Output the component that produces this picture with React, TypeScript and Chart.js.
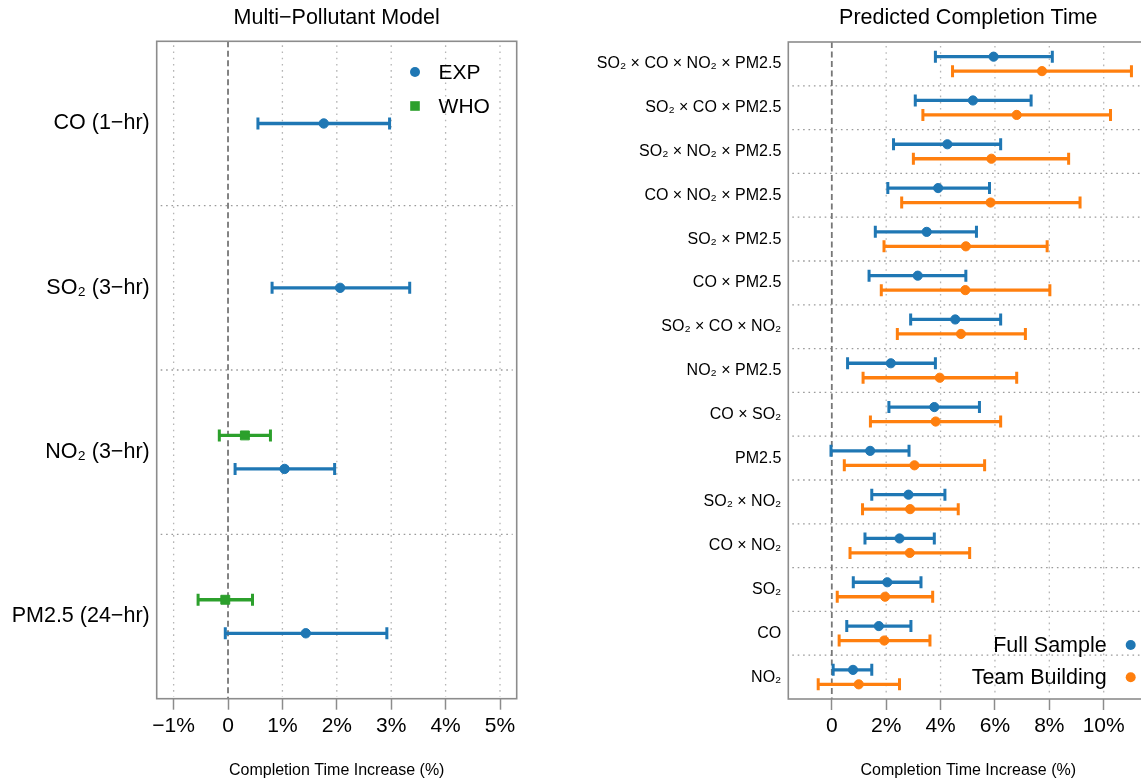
import React, { useEffect, useRef } from "react";
import { Chart, registerables } from "chart.js";

Chart.register(...registerables);

const FONT = "'Liberation Sans', Arial, Helvetica, sans-serif";
Chart.defaults.font.family = FONT;
Chart.defaults.color = "#000";

// ---------- Left panel data ----------
const leftCategories = ["CO (1−hr)", "SO₂ (3−hr)", "NO₂ (3−hr)", "PM2.5 (24−hr)"];
const expEst = [1.76, 2.06, 1.04, 1.43];
const expLow = [0.55, 0.81, 0.13, -0.05];
const expHigh = [2.97, 3.34, 1.96, 2.92];
const whoEst: (number | null)[] = [null, null, 0.31, -0.05];
const whoLow: (number | null)[] = [null, null, -0.16, -0.55];
const whoHigh: (number | null)[] = [null, null, 0.78, 0.45];
const leftTicks = [-1, 0, 1, 2, 3, 4, 5];

// ---------- Right panel data ----------
const rightCategories = [
  "SO₂ × CO × NO₂ × PM2.5",
  "SO₂ × CO × PM2.5",
  "SO₂ × NO₂ × PM2.5",
  "CO × NO₂ × PM2.5",
  "SO₂ × PM2.5",
  "CO × PM2.5",
  "SO₂ × CO × NO₂",
  "NO₂ × PM2.5",
  "CO × SO₂",
  "PM2.5",
  "SO₂ × NO₂",
  "CO × NO₂",
  "SO₂",
  "CO",
  "NO₂",
];
const fullEst = [5.95, 5.19, 4.25, 3.91, 3.49, 3.16, 4.54, 2.17, 3.77, 1.41, 2.82, 2.49, 2.04, 1.73, 0.78];
const fullLow = [3.81, 3.07, 2.27, 2.06, 1.6, 1.37, 2.9, 0.58, 2.1, -0.03, 1.47, 1.22, 0.79, 0.55, 0.05];
const fullHigh = [8.11, 7.33, 6.21, 5.8, 5.32, 4.93, 6.21, 3.81, 5.43, 2.84, 4.16, 3.77, 3.28, 2.91, 1.47];
const teamEst = [7.73, 6.8, 5.87, 5.84, 4.93, 4.91, 4.75, 3.97, 3.82, 3.04, 2.88, 2.87, 1.96, 1.93, 0.99];
const teamLow = [4.44, 3.35, 3.0, 2.57, 1.92, 1.82, 2.41, 1.15, 1.42, 0.46, 1.13, 0.67, 0.2, 0.27, -0.5];
const teamHigh = [11.02, 10.25, 8.71, 9.13, 7.92, 8.02, 7.12, 6.8, 6.21, 5.62, 4.65, 5.07, 3.71, 3.61, 2.49];
const rightTicks = [0, 2, 4, 6, 8, 10];

const BLUE = "#1f77b4";
const ORANGE = "#ff7f0e";
const GREEN = "#2ca02c";

type Series = {
  label: string;
  color: string;
  style: "circle" | "rect";
  radius: number;
  est: (number | null)[];
  low: (number | null)[];
  high: (number | null)[];
  offset: (i: number) => number;
};

type LegendItem = { label: string; color: string; style: "circle" | "rect"; x: number; tx: number; y: number; align: CanvasTextAlign };

function tickLabel(v: number) {
  if (v === 0) return "0";
  return (v < 0 ? "−" + Math.abs(v) : String(v)) + "%";
}

function buildConfig(opts: {
  title: string;
  categories: string[];
  series: Series[];
  xMin: number;
  xMax: number;
  xTicks: number[];
  yAxisWidth: number;
  xAxisHeight: number;
  padding: { left: number; right: number; top: number; bottom: number };
  catFont: number;
  legend: LegendItem[];
  legendFont: number;
}) {
  const n = opts.categories.length;
  const datasets = opts.series.map((s) => ({
    label: s.label,
    data: s.est
      .map((v, i) =>
        v == null ? null : { x: v, y: i + s.offset(i), low: s.low[i] as number, high: s.high[i] as number }
      )
      .filter((p) => p !== null),
    backgroundColor: s.color,
    borderColor: s.color,
    pointStyle: s.style,
    pointRadius: s.radius,
    pointBorderWidth: 1,
    showLine: false,
  }));

  const decor = {
    id: "decor",
    beforeDatasetsDraw(chart: any) {
      const { ctx, chartArea: a, scales } = chart;
      const xs = scales.x;
      const ys = scales.y;
      ctx.save();
      // vertical dotted gridlines
      ctx.strokeStyle = "#b5b5b5";
      ctx.lineWidth = 1.3;
      ctx.setLineDash([1.6, 4.6]);
      opts.xTicks.forEach((v) => {
        if (v === 0) return;
        const px = xs.getPixelForValue(v);
        ctx.beginPath();
        ctx.moveTo(px, a.top + 4);
        ctx.lineTo(px, a.bottom - 2);
        ctx.stroke();
      });
      // horizontal separators
      ctx.strokeStyle = "#9a9a9a";
      ctx.setLineDash([1.6, 3.8]);
      for (let i = 0; i < n - 1; i++) {
        const py = ys.getPixelForValue(i + 0.5);
        ctx.beginPath();
        ctx.moveTo(a.left + 4, py);
        ctx.lineTo(a.right - 4, py);
        ctx.stroke();
      }
      // zero dashed line
      const zx = xs.getPixelForValue(0);
      ctx.strokeStyle = "#777";
      ctx.lineWidth = 1.8;
      ctx.setLineDash([6, 3.5]);
      ctx.beginPath();
      ctx.moveTo(zx, a.top);
      ctx.lineTo(zx, a.bottom);
      ctx.stroke();
      // box
      ctx.setLineDash([]);
      ctx.strokeStyle = "#8c8c8c";
      ctx.lineWidth = 1.6;
      ctx.strokeRect(a.left, a.top, a.right - a.left, a.bottom - a.top);
      // error bars
      chart.data.datasets.forEach((ds: any) => {
        ctx.strokeStyle = ds.borderColor;
        ctx.lineCap = "butt";
        ds.data.forEach((p: any) => {
          const py = ys.getPixelForValue(p.y);
          const x1 = xs.getPixelForValue(p.low);
          const x2 = xs.getPixelForValue(p.high);
          ctx.lineWidth = 3.3;
          ctx.beginPath();
          ctx.moveTo(x1, py);
          ctx.lineTo(x2, py);
          ctx.stroke();
          ctx.lineWidth = 3;
          ctx.beginPath();
          ctx.moveTo(x1, py - 6);
          ctx.lineTo(x1, py + 6);
          ctx.moveTo(x2, py - 6);
          ctx.lineTo(x2, py + 6);
          ctx.stroke();
        });
      });
      ctx.restore();
    },
    afterDraw(chart: any) {
      const { ctx, chartArea: a } = chart;
      ctx.save();
      // title
      ctx.fillStyle = "#000";
      ctx.font = `21.5px ${FONT}`;
      ctx.textAlign = "center";
      ctx.textBaseline = "middle";
      ctx.fillText(opts.title, (a.left + a.right) / 2, 18.5);
      // legend
      ctx.font = `${opts.legendFont}px ${FONT}`;
      opts.legend.forEach((it) => {
        ctx.fillStyle = it.color;
        if (it.style === "circle") {
          ctx.beginPath();
          ctx.arc(it.x, it.y, 5, 0, Math.PI * 2);
          ctx.fill();
        } else {
          ctx.fillRect(it.x - 4.8, it.y - 4.8, 9.6, 9.6);
        }
        ctx.fillStyle = "#000";
        ctx.textAlign = it.align;
        ctx.textBaseline = "middle";
        ctx.fillText(it.label, it.tx, it.y + 1);
      });
      ctx.restore();
    },
  };

  return {
    type: "scatter" as const,
    data: { datasets },
    options: {
      responsive: false,
      animation: false as const,
      devicePixelRatio: 1,
      events: [],
      layout: { padding: opts.padding },
      plugins: { legend: { display: false }, tooltip: { enabled: false }, title: { display: false } },
      scales: {
        x: {
          type: "linear" as const,
          min: opts.xMin,
          max: opts.xMax,
          afterBuildTicks: (scale: any) => {
            scale.ticks = opts.xTicks.map((v) => ({ value: v }));
          },
          afterFit: (scale: any) => {
            scale.height = opts.xAxisHeight;
          },
          grid: {
            display: true,
            drawOnChartArea: false,
            drawTicks: true,
            tickLength: 11,
            tickColor: "#8c8c8c",
            tickWidth: 1.5,
          },
          border: { display: false },
          ticks: {
            autoSkip: false,
            maxRotation: 0,
            padding: 3.5,
            color: "#000",
            font: { size: 21, family: FONT },
            callback: (v: any) => tickLabel(Number(v)),
          },
          title: {
            display: true,
            text: "Completion Time Increase (%)",
            color: "#000",
            font: { size: 16, family: FONT },
            padding: { top: 0, bottom: 2.7 },
          },
        },
        y: {
          type: "linear" as const,
          reverse: true,
          min: -0.5,
          max: n - 0.5,
          afterBuildTicks: (scale: any) => {
            scale.ticks = opts.categories.map((_, i) => ({ value: i }));
          },
          afterFit: (scale: any) => {
            scale.width = opts.yAxisWidth;
          },
          grid: { display: false, drawTicks: false },
          border: { display: false },
          ticks: {
            autoSkip: false,
            padding: 7,
            color: "#000",
            font: { size: opts.catFont, family: FONT },
            callback: (v: any) => opts.categories[Math.round(Number(v))] ?? "",
          },
        },
      },
    },
    plugins: [decor],
  };
}

function ChartCanvas({ config, left, width, height }: { config: any; left: number; width: number; height: number }) {
  const ref = useRef<HTMLCanvasElement>(null);
  useEffect(() => {
    const chart = new Chart(ref.current as HTMLCanvasElement, config);
    return () => chart.destroy();
  }, [config]);
  return (
    <canvas
      ref={ref}
      width={width}
      height={height}
      style={{ position: "absolute", left, top: 0, width, height, display: "block" }}
    />
  );
}

const leftConfig = buildConfig({
  title: "Multi−Pollutant Model",
  categories: leftCategories,
  series: [
    {
      label: "WHO",
      color: GREEN,
      style: "rect",
      radius: 6.3,
      est: whoEst,
      low: whoLow,
      high: whoHigh,
      offset: () => -0.102,
    },
    {
      label: "EXP",
      color: BLUE,
      style: "circle",
      radius: 4.7,
      est: expEst,
      low: expLow,
      high: expHigh,
      offset: (i) => (whoEst[i] == null ? 0 : 0.102),
    },
  ],
  xMin: -1.311,
  xMax: 5.307,
  xTicks: leftTicks,
  yAxisWidth: 156.7,
  xAxisHeight: 84.3,
  padding: { left: 0, right: 43.3, top: 41.3, bottom: 0 },
  catFont: 21.5,
  legend: [
    { label: "EXP", color: BLUE, style: "circle", x: 415, tx: 438.6, y: 72, align: "left" },
    { label: "WHO", color: GREEN, style: "rect", x: 415, tx: 438.6, y: 106, align: "left" },
  ],
  legendFont: 21,
});

const rightConfig = buildConfig({
  title: "Predicted Completion Time",
  categories: rightCategories,
  series: [
    {
      label: "Full Sample",
      color: BLUE,
      style: "circle",
      radius: 4.6,
      est: fullEst,
      low: fullLow,
      high: fullHigh,
      offset: () => -0.165,
    },
    {
      label: "Team Building",
      color: ORANGE,
      style: "circle",
      radius: 4.6,
      est: teamEst,
      low: teamLow,
      high: teamHigh,
      offset: () => 0.165,
    },
  ],
  xMin: -1.6,
  xMax: 11.64,
  xTicks: rightTicks,
  yAxisWidth: 218.3,
  xAxisHeight: 84,
  padding: { left: 0, right: 21.7, top: 42, bottom: 0 },
  catFont: 16,
  legend: [
    { label: "Full Sample", color: BLUE, style: "circle", x: 560.7, tx: 536.7, y: 645, align: "right" },
    { label: "Team Building", color: ORANGE, style: "circle", x: 560.7, tx: 536.7, y: 677.3, align: "right" },
  ],
  legendFont: 21.5,
});

export default function App() {
  return (
    <div
      style={{
        position: "fixed",
        left: 0,
        top: 0,
        width: 1141,
        height: 783,
        overflow: "hidden",
        background: "#fff",
      }}
    >
      <ChartCanvas config={leftConfig} left={0} width={560} height={783} />
      <ChartCanvas config={rightConfig} left={570} width={600} height={783} />
    </div>
  );
}
